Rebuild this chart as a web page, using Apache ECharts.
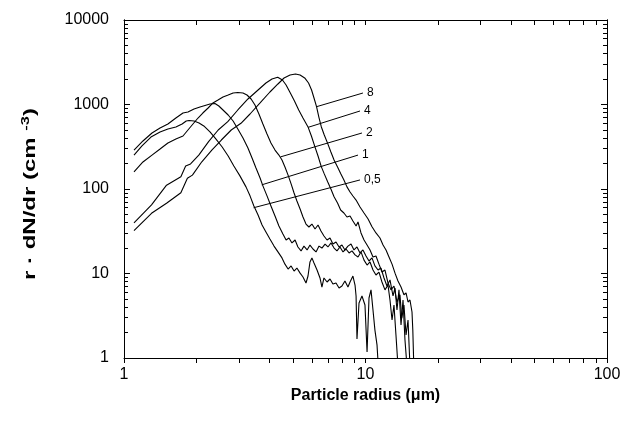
<!DOCTYPE html>
<html>
<head>
<meta charset="utf-8">
<script src="https://cdn.jsdelivr.net/npm/echarts@6/dist/echarts.min.js"></script>
<style>
  html, body { margin: 0; padding: 0; background: #fff; }
  #chart { width: 638px; height: 433px; }
</style>
</head>
<body>
<div id="chart"></div>
<script>
// Size distributions r·dN/dr versus particle radius, one curve per run (0,5 … 8).
const radius05 = [1.10,1.187,1.293,1.41,1.52,1.64,1.74,1.81,1.86,1.95,2.045,2.14,2.27,2.40,2.55,2.70,2.85,3.02,3.20,3.325,3.45,3.59,3.73,3.87,4.02,4.18,4.34,4.51,4.64,4.78,4.92,5.06,5.20,5.36,5.51,5.67,5.78,5.89,6.00,6.12,6.30,6.48,6.60,6.73,6.93,7.13,7.33,7.55,7.77,7.99,8.22,8.46,8.63,8.87,9.05,9.14,9.22,9.40,9.67,9.95,10.15,10.34,10.54,10.74,10.94,11.16,11.27];
const conc05 = [252,323,412,473,513,542,588,638,647,638,604,557,473,391,314,246,187,143,106,83,63,49.2,37.5,31,25.6,21.1,18,15.3,12.9,11.3,12.3,10.7,11.6,10.1,9.09,7.72,9.34,13.7,15.3,13.3,11.0,8.85,6.92,8.85,7.93,8.61,7.51,7.72,6.74,7.11,8.15,6.92,7.93,9.34,7.3,5.42,1.68,4.48,5.42,4.24,1.18,5.13,6.4,3.7,2.14,1.43,0.9];

const radius1 = [1.10,1.198,1.306,1.41,1.52,1.64,1.755,1.84,1.95,2.064,2.165,2.27,2.38,2.47,2.57,2.70,2.83,2.96,3.11,3.26,3.39,3.52,3.66,3.76,3.91,4.06,4.22,4.38,4.55,4.69,4.82,4.96,5.11,5.25,5.41,5.56,5.73,5.89,6.06,6.24,6.42,6.60,6.80,6.99,7.20,7.41,7.62,7.84,8.07,8.30,8.55,8.79,9.05,9.31,9.58,9.86,10.15,10.44,10.74,11.05,11.37,11.70,12.04,12.39,12.63,12.88,13.12,13.37,13.63];
const conc1 = [289,370,460,527,588,692,793,815,885,934,973,1014,1027,960,861,751,638,513,401,306,233,177,135,109,83,63,47.9,36.5,29.3,24.9,26.3,23,24.9,20.6,18.5,21.1,19.0,21.7,19.5,18,21.1,20,22.3,20.6,23,20,18.5,20.6,18,19.5,17.5,18.5,16.6,15.7,18,14.4,12.6,13.7,11.0,9.6,10.4,7.93,6.4,7.3,4.86,2.82,4.24,1.87,0.8];

const radius2 = [1.10,1.198,1.306,1.41,1.52,1.64,1.755,1.84,1.93,2.025,2.12,2.23,2.335,2.45,2.57,2.70,2.83,2.96,3.11,3.23,3.36,3.486,3.62,3.76,3.91,4.06,4.22,4.38,4.51,4.64,4.78,4.92,5.06,5.20,5.36,5.51,5.67,5.83,6.00,6.18,6.36,6.54,6.73,6.93,7.13,7.33,7.55,7.77,7.99,8.22,8.46,8.71,8.96,9.22,9.49,9.76,10.05,10.34,10.64,10.94,11.27,11.59,11.93,12.27,12.63,13.0,13.25,13.5,13.76,14.03,14.30,14.57,14.85];
const conc2 = [159,209,252,297,350,391,424,499,588,692,793,909,1042,1130,1227,1295,1368,1387,1368,1295,1162,986,772,588,448,350,289,252,220,182,146,115,89.7,72.1,58,46.6,38.5,35.5,38.5,33.6,37.5,31.8,27.8,24.9,26.3,22.3,23.6,20.6,21.7,19.0,21.1,22.3,19,20.6,17.5,19,16.1,14.06,15.3,12.3,11,11.6,8.85,7.11,8.4,5.42,6.74,3.7,6.4,2.46,4.86,1.63,0.8];

const radius4 = [1.10,1.30,1.50,1.72,1.80,1.886,2.04,2.24,2.455,2.69,2.96,3.26,3.59,3.87,4.10,4.33,4.53,4.69,4.89,5.08,5.29,5.51,5.79,5.97,6.17,6.36,6.56,6.75,6.97,7.19,7.41,7.66,7.89,8.14,8.38,8.63,8.87,9.14,9.31,9.58,9.86,10.15,10.44,10.74,11.05,11.37,11.70,12.04,12.39,12.75,13.12,13.5,13.89,14.13,14.43,14.72,15.0,15.28];
const conc4 = [39.8,65,111,140,187,198,252,363,499,626,861,1162,1485,1797,2004,2100,1950,1702,1357,1100,861,692,537,424,317,246,184,151,122,100,81.1,68.3,56.4,52,46.6,47.9,41.8,36.5,40.7,30.2,24.9,21.7,19,15.7,16.1,12.9,10.4,11,7.72,6.4,7.11,4.6,5.6,2.97,4.24,1.87,2.82,0.8];

const radius8 = [1.10,1.30,1.50,1.72,1.83,1.92,2.10,2.31,2.53,2.78,3.05,3.325,3.66,4.02,4.34,4.60,4.87,5.13,5.36,5.62,5.81,5.98,6.12,6.27,6.41,6.56,6.75,6.97,7.19,7.41,7.66,7.89,8.14,8.38,8.63,8.87,9.14,9.49,9.86,10.25,10.64,11.05,11.48,11.82,12.16,12.51,12.88,13.25,13.63,14.03,14.43,14.72,15.0,15.28,15.58,15.7,15.85];
const conc8 = [32.1,51.6,67.7,90.4,134,146,210,289,380,499,599,772,1042,1406,1749,2059,2234,2296,2234,2042,1797,1485,1194,942,711,546,435,347,274,220,182,153,128,106,92.1,82.6,74,61.2,52,44.2,35.7,30.2,26.3,21.7,19,15.7,12.9,10.1,8.15,6.92,5.6,5.88,4.6,4.86,3.5,2.14,0.8];

// Curve labels and their leader lines (start on the curve, end beside the label).
const leaderLabels = ['8', '4', '2', '1', '0,5'];
const leaderFrom = [[6.27, 942], [5.79, 537], [4.45, 240], [3.72, 112], [3.44, 60]];
const leaderTo = [[9.76, 1368], [9.49, 838], [9.67, 460], [9.31, 252], [9.49, 128]];

// Axis ticks and tick labels.
const xMajor = [1, 10, 100];
const xTicks = [1,2,3,4,5,6,7,8,9,10,20,30,40,50,60,70,80,90,100];
const yMajor = [1, 10, 100, 1000, 10000];
const yMinor = [2,3,4,5,6,7,8,9,20,30,40,50,60,70,80,90,200,300,400,500,600,700,800,900,2000,3000,4000,5000,6000,7000,8000,9000];

const FONT = '"Liberation Sans", Arial, sans-serif';
const INK = '#000';

function zip(xs, ys) { return xs.map((x, i) => [x, ys[i]]); }
function plain(v) { return String(Math.round(v)); }

const curves = [
  { name: '0,5', x: radius05, y: conc05 },
  { name: '1', x: radius1, y: conc1 },
  { name: '2', x: radius2, y: conc2 },
  { name: '4', x: radius4, y: conc4 },
  { name: '8', x: radius8, y: conc8 }
];

const axisLine = { show: true, onZero: false, lineStyle: { color: INK, width: 1 } };
const xBase = { type: 'log', logBase: 10, min: 1, max: 100, splitLine: { show: false }, axisLine };
const yBase = { type: 'log', logBase: 10, min: 1, max: 10000, splitLine: { show: false }, axisLine };

const series = curves.map(c => ({
  type: 'line', name: c.name, xAxisIndex: 0, yAxisIndex: 0,
  data: zip(c.x, c.y), showSymbol: false, clip: true, silent: true,
  lineStyle: { color: INK, width: 1.1 }
}));

leaderLabels.forEach((lab, i) => {
  series.push({
    type: 'line', name: 'leader ' + lab, xAxisIndex: 0, yAxisIndex: 0,
    data: [leaderFrom[i], leaderTo[i]], showSymbol: false, silent: true,
    lineStyle: { color: INK, width: 1 },
    endLabel: { show: true, formatter: lab, color: INK, fontSize: 12, fontFamily: FONT, distance: 4 }
  });
});

const chart = echarts.init(document.getElementById('chart'), null, { renderer: 'canvas' });
chart.setOption({
  animation: false,
  backgroundColor: '#fff',
  grid: { left: 124, right: 31, top: 20, bottom: 75, containLabel: false },
  xAxis: [
    Object.assign({}, xBase, {
      position: 'bottom',
      axisTick: { show: true, inside: false, length: 5, customValues: xTicks, lineStyle: { color: INK } },
      axisLabel: { show: true, customValues: xMajor, formatter: plain, color: INK, fontSize: 16, fontFamily: FONT, margin: 9 },
      name: 'Particle radius (μm)', nameLocation: 'middle', nameGap: 30,
      nameTextStyle: { color: INK, fontSize: 16, fontWeight: 'bold', fontFamily: FONT }
    }),
    Object.assign({}, xBase, {
      position: 'top',
      axisTick: { show: true, inside: true, length: 5, customValues: xTicks, lineStyle: { color: INK } },
      axisLabel: { show: false }
    })
  ],
  yAxis: [
    Object.assign({}, yBase, {
      position: 'left',
      axisTick: { show: true, inside: true, length: 6, customValues: yMajor, lineStyle: { color: INK } },
      axisLabel: { show: true, customValues: yMajor, formatter: plain, color: INK, fontSize: 16, fontFamily: FONT, margin: 15 }
    }),
    Object.assign({}, yBase, {
      position: 'left',
      axisTick: { show: true, inside: true, length: 4, customValues: yMinor, lineStyle: { color: INK } },
      axisLabel: { show: false }
    }),
    Object.assign({}, yBase, {
      position: 'right',
      axisTick: { show: true, inside: true, length: 6, customValues: yMajor, lineStyle: { color: INK } },
      axisLabel: { show: false }
    }),
    Object.assign({}, yBase, {
      position: 'right',
      axisTick: { show: true, inside: true, length: 4, customValues: yMinor, lineStyle: { color: INK } },
      axisLabel: { show: false }
    })
  ],
  graphic: [{
    type: 'text', x: 31, y: 194, rotation: Math.PI / 2, scaleX: 1.5, silent: true,
    style: {
      text: '{t|r · dN/dr (cm }{s|-3}{t|)}',
      align: 'center', verticalAlign: 'middle',
      rich: {
        t: { fontSize: 16, fontWeight: 'bold', fontFamily: FONT, fill: INK, color: INK },
        s: { fontSize: 11, fontWeight: 'bold', fontFamily: FONT, fill: INK, color: INK, padding: [0, 0, 10, 0] }
      }
    }
  }],
  series
});
</script>
</body>
</html>
